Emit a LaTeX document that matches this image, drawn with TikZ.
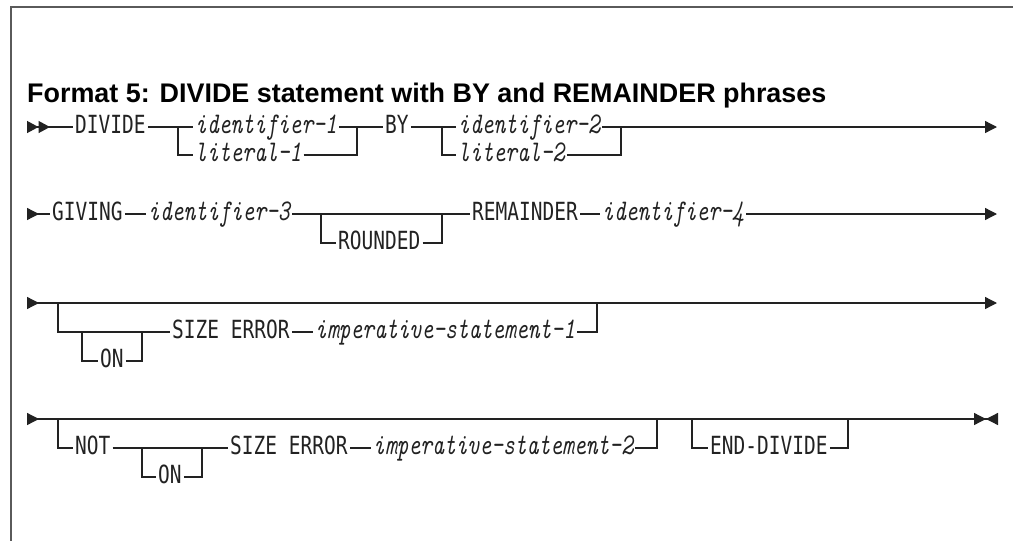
\documentclass[tikz,border=0pt]{standalone}
\usepackage{fontspec}
\setmainfont{Liberation Sans}
\newfontfamily\kwfont[FakeStretch=0.78]{DejaVu Sans Mono}
\newfontfamily\idfont[FakeStretch=0.75]{lmmono10-italic.otf}
\usepackage{xcolor}
\usepackage{tikz}
\usetikzlibrary{arrows.meta,positioning}

\definecolor{rail}{HTML}{222222}
\definecolor{framegray}{HTML}{5A5A5A}

\begin{document}
\begin{tikzpicture}[
                x=1pt, y=-1pt,
                kw/.style={font=\kwfont\fontsize{25}{25}\selectfont, anchor=west, inner xsep=2pt, inner ysep=0pt, text height=12pt, text depth=0pt, text=rail},
                ident/.style={font=\idfont\fontsize{30}{30}\selectfont, anchor=west, inner xsep=2pt, inner ysep=0pt, text height=12pt, text depth=0pt, text=rail},
                ttl/.style={font=\bfseries\fontsize{26.9}{26.9}\selectfont, anchor=base west, inner sep=0pt},
                ln/.style={draw=rail, line width=1.3pt},
                head/.style={{Triangle[reversed, length=12pt, width=12pt]}-},
                headhead/.style={{Triangle[reversed, length=11.5pt, width=12pt]Triangle[reversed, length=11.5pt, width=12pt]}-},
                tail/.style={-{Triangle[length=12pt, width=12pt]}},
                headtail/.style={{Triangle[reversed, length=12pt, width=12pt]}-{Triangle[length=12pt, width=12pt]}},
                headstop/.style={{Triangle[reversed, length=12pt, width=12pt]}-{Triangle[length=12pt, width=12pt]Triangle[reversed, length=12pt, width=12pt]}}
            ]
            \useasboundingbox (0,0) rectangle (1013,541);
            \draw[framegray, line width=2pt] (11,541) -- (11,7) -- (1013,7);
            \node[ttl] (title) at (27,102) {Format 5: DIVIDE statement with BY and REMAINDER phrases};

            % row 1
            \coordinate (r1s) at (27,127);
            \node[kw] (divide) at (73,127) {DIVIDE};
            \coordinate (r1a) at (178,127);
            \coordinate (r1ab) at (178,155);
            \node[ident] (id1) at (193,127) {identifier-1};
            \node[ident] (lit1) at (193,155) {literal-1};
            \coordinate (r1b) at (357,127);
            \coordinate (r1bb) at (357,155);
            \node[kw] (by) at (383,127) {BY};
            \coordinate (r1c) at (442,127);
            \coordinate (r1cb) at (442,155);
            \node[ident] (id2) at (456,127) {identifier-2};
            \node[ident] (lit2) at (456,155) {literal-2};
            \coordinate (r1d) at (621,127);
            \coordinate (r1db) at (621,155);
            \coordinate (r1e) at (997,127);
            \draw[ln, headhead] (r1s) -- (divide.west);
            \draw[ln] (divide.east) -- (r1a) -- (id1.west);
            \draw[ln] (r1a) -- (r1ab) -- (lit1.west);
            \draw[ln] (id1.east) -- (r1b) -- (by.west);
            \draw[ln] (lit1.east) -- (r1bb) -- (r1b);
            \draw[ln] (by.east) -- (r1c) -- (id2.west);
            \draw[ln] (r1c) -- (r1cb) -- (lit2.west);
            \draw[ln, tail] (id2.east) -- (r1d) -- (r1e);
            \draw[ln] (lit2.east) -- (r1db) -- (r1d);

            % row 2
            \coordinate (r2s) at (27,214);
            \node[kw] (giving) at (50,214) {GIVING};
            \node[ident] (id3) at (146,214) {identifier-3};
            \coordinate (r2a) at (321,214);
            \coordinate (r2ab) at (321,243);
            \node[kw] (rounded) at (336,243) {ROUNDED};
            \coordinate (r2b) at (442,214);
            \coordinate (r2bb) at (442,243);
            \node[kw] (remainder) at (470,214) {REMAINDER};
            \node[ident] (id4) at (600,214) {identifier-4};
            \coordinate (r2e) at (997,214);
            \draw[ln, head] (r2s) -- (giving.west);
            \draw[ln] (giving.east) -- (id3.west);
            \draw[ln] (id3.east) -- (r2a) -- (r2b) -- (remainder.west);
            \draw[ln] (r2a) -- (r2ab) -- (rounded.west);
            \draw[ln] (rounded.east) -- (r2bb) -- (r2b);
            \draw[ln] (remainder.east) -- (id4.west);
            \draw[ln, tail] (id4.east) -- (r2e);

            % row 3
            \coordinate (r3s) at (27,303);
            \coordinate (r3a) at (58,303);
            \coordinate (r3ab) at (58,332);
            \coordinate (r3b) at (82,332);
            \coordinate (r3bb) at (82,361);
            \node[kw] (on1) at (98,361) {ON};
            \coordinate (r3c) at (142,332);
            \coordinate (r3cb) at (142,361);
            \node[kw] (size1) at (170,332) {SIZE ERROR};
            \node[ident] (imp1) at (313,332) {imperative-statement-1};
            \coordinate (r3d) at (597,332);
            \coordinate (r3da) at (597,303);
            \coordinate (r3e) at (997,303);
            \draw[ln, headtail] (r3s) -- (r3a) -- (r3da) -- (r3e);
            \draw[ln] (r3a) -- (r3ab) -- (r3b) -- (r3c) -- (size1.west);
            \draw[ln] (r3b) -- (r3bb) -- (on1.west);
            \draw[ln] (on1.east) -- (r3cb) -- (r3c);
            \draw[ln] (size1.east) -- (imp1.west);
            \draw[ln] (imp1.east) -- (r3d) -- (r3da);

            % row 4
            \coordinate (r4s) at (27,419);
            \coordinate (r4a) at (58,419);
            \coordinate (r4ab) at (58,448);
            \node[kw] (not) at (73,448) {NOT};
            \coordinate (r4b) at (142,448);
            \coordinate (r4bb) at (142,477);
            \node[kw] (on2) at (156,477) {ON};
            \coordinate (r4c) at (202,448);
            \coordinate (r4cb) at (202,477);
            \node[kw] (size2) at (228,448) {SIZE ERROR};
            \node[ident] (imp2) at (371,448) {imperative-statement-2};
            \coordinate (r4d) at (657,448);
            \coordinate (r4da) at (657,419);
            \coordinate (r4f) at (692,419);
            \coordinate (r4fb) at (692,448);
            \node[kw] (enddiv) at (708,448) {END-DIVIDE};
            \coordinate (r4g) at (848,448);
            \coordinate (r4ga) at (848,419);
            \coordinate (r4e) at (998,419);
            \draw[ln, headstop] (r4s) -- (r4a) -- (r4da) -- (r4f) -- (r4ga) -- (r4e);
            \draw[ln] (r4a) -- (r4ab) -- (not.west);
            \draw[ln] (not.east) -- (r4b) -- (r4c) -- (size2.west);
            \draw[ln] (r4b) -- (r4bb) -- (on2.west);
            \draw[ln] (on2.east) -- (r4cb) -- (r4c);
            \draw[ln] (size2.east) -- (imp2.west);
            \draw[ln] (imp2.east) -- (r4d) -- (r4da);
            \draw[ln] (r4f) -- (r4fb) -- (enddiv.west);
            \draw[ln] (enddiv.east) -- (r4g) -- (r4ga);
        \end{tikzpicture}
\end{document}
